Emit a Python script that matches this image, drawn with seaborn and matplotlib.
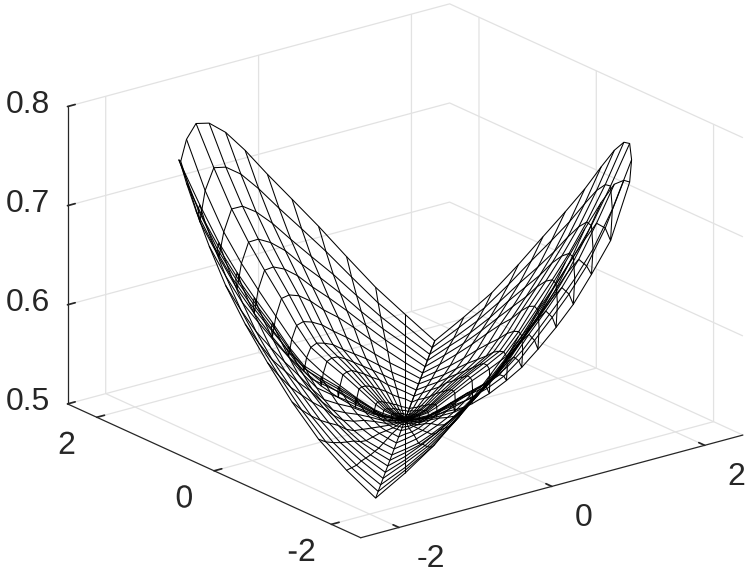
import numpy as np
import seaborn as sns
import matplotlib
matplotlib.use("Agg")
import matplotlib.pyplot as plt
import matplotlib.patheffects as pe

sns.set_theme(style="white")
plt.rcParams['font.family'] = ['Liberation Sans', 'DejaVu Sans']
plt.rcParams['grid.color'] = '#e2e2e2'
plt.rcParams['grid.linewidth'] = 0.9
plt.rcParams['axes.unicode_minus'] = False

# ring radii, outer ring first
radii = [2.35, 2.15, 1.95, 1.76, 1.58, 1.39, 1.22, 1.06, 0.88, 0.70, 0.52, 0.33, 0.24, 0.15, 0.08]
z_center = 0.5

# height above 0.5 on each ring, read going from the low 45 deg spoke
# to the high 135 deg spoke in 7.5 deg steps
ring_heights = [
    [0, .026, .054, .087, .121, .153, .184, .215, .241, .259, .268, .262, .250],
    [0, .022, .045, .073, .102, .129, .155, .181, .203, .218, .226, .212, .190],
    [0, .018, .038, .061, .085, .107, .129, .151, .169, .182, .187, .172, .155],
    [0, .016, .032, .051, .072, .091, .109, .128, .142, .152, .156, .142, .124],
    [0, .013, .027, .043, .060, .076, .091, .107, .119, .127, .130, .117, .100],
    [0, .010, .022, .035, .049, .062, .073, .086, .096, .102, .104, .092, .077],
    [0, .008, .016, .026, .037, .047, .056, .066, .073, .078, .079, .070, .058],
    [0, .006, .012, .020, .028, .035, .042, .050, .055, .059, .059, .053, .044],
    [0, .005, .010, .016, .022, .028, .034, .040, .045, .047, .047, .039, .030],
    [0, .004, .008, .012, .018, .022, .027, .031, .035, .036, .036, .028, .019],
    [0, .003, .005, .008, .012, .015, .018, .021, .023, .024, .024, .017, .010],
    [0, .001, .002, .004, .005, .007, .008, .010, .011, .012, .011, .007, .004],
    [0, .001, .001, .002, .003, .004, .004, .005, .006, .006, .006, .004, .002],
    [0, .000, .001, .001, .001, .002, .002, .002, .003, .003, .003, .002, .001],
    [0, .000, .000, .000, .001, .001, .001, .001, .001, .001, .001, .001, .000],
]
xy_ticks = [-2, 0, 2]
z_ticks = [0.5, 0.6, 0.7, 0.8]

# the surface repeats by mirror about 135 deg and every 180 deg
heights = np.array(ring_heights)
half_turn = np.hstack([heights, heights[:, -2::-1]])
full_turn = np.hstack([half_turn, half_turn[:, 1:]])
Z = np.vstack([0.5 + full_turn, np.full(full_turn.shape[1], z_center)])

theta = np.deg2rad(45 + 7.5 * np.arange(Z.shape[1]))
r = np.array(radii + [0.0])
X = np.outer(r, np.cos(theta))
Y = np.outer(r, np.sin(theta))

fig = plt.figure(figsize=(7.5, 5.7), dpi=100)
ax = fig.add_axes([0.030, 0.0114, 1, 1], projection='3d')
ax.set_proj_type('ortho')
ax.view_init(elev=20.5, azim=-127.5)
ax.set_box_aspect((481, 481, 317), zoom=1.28)

ax.plot_wireframe(X, Y, Z, rstride=1, cstride=1, color='black', linewidth=0.75)

ax.set_xlim(-2.5, 2.5)
ax.set_ylim(-2.5, 2.5)
ax.set_zlim(0.5, 0.8)
ax.set_xticks(xy_ticks)
ax.set_yticks(xy_ticks)
ax.set_zticks(z_ticks)
ax.set_zticklabels(['0.5', '0.6', '0.7', '0.8'])
ax.grid(True)

label_style = ((ax.xaxis, 15, 'bottom'), (ax.yaxis, 7.5, 'baseline'), (ax.zaxis, 4.6, 'center'))
for axis, pad, va in label_style:
    axis.set_pane_color((1, 1, 1, 0))
    axis.pane.set_edgecolor((1, 1, 1, 0))
    axis.line.set_color('#262626')
    axis.line.set_linewidth(0.9)
    axis.set_tick_params(labelsize=23, labelcolor='#262626', color='#262626', pad=pad)
    axis._axinfo['tick']['inward_factor'] = 0.0
    axis._axinfo['tick']['outward_factor'] = 0.25
    for label in axis.get_ticklabels():
        label.set_va(va)

# y labels sit a little lower than the pad alone can put them
for label in ax.yaxis.get_ticklabels():
    label.set_path_effects([pe.Stroke(offset=(-1.5, -5.5), linewidth=0, foreground='#262626')])

fig.savefig('out.png', dpi=100)
